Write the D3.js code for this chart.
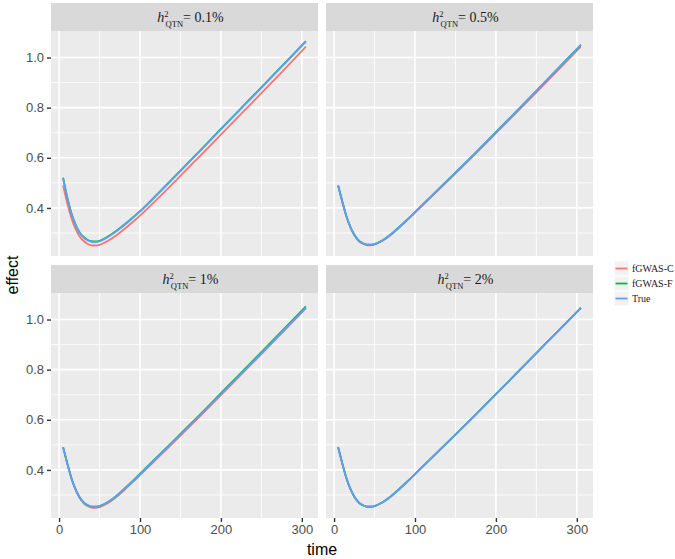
<!DOCTYPE html>
<html>
<head>
<meta charset="utf-8">
<script src="https://cdn.jsdelivr.net/npm/d3@7"></script>
<style>
  body { margin: 0; background: #fff; }
  svg { display: block; }
</style>
</head>
<body>
<svg id="chart" width="675" height="559"></svg>
<script>
// values
const times = [5, 10, 15, 20, 25, 30, 35, 40, 45, 50, 60, 70, 80, 90, 100, 125, 150, 175, 200, 225, 250, 275, 305];

const panelLabels = ["0.1%", "0.5%", "1%", "2%"];
const seriesNames = ["fGWAS-C", "fGWAS-F", "True"];
const seriesColors = ["#F8766D", "#00BA38", "#619CFF"];

// h2 = 0.1%
const c01 = [0.489, 0.42, 0.362, 0.318, 0.288, 0.269, 0.257, 0.251, 0.25, 0.253, 0.268, 0.289, 0.314, 0.341, 0.369, 0.447, 0.528, 0.61, 0.692, 0.775, 0.858, 0.941, 1.043];
const f01 = [0.521, 0.444, 0.382, 0.337, 0.304, 0.285, 0.273, 0.267, 0.266, 0.269, 0.285, 0.307, 0.332, 0.359, 0.387, 0.467, 0.549, 0.632, 0.715, 0.798, 0.881, 0.965, 1.065];
const t01 = [0.517, 0.442, 0.38, 0.335, 0.302, 0.283, 0.271, 0.265, 0.264, 0.267, 0.283, 0.305, 0.33, 0.357, 0.385, 0.465, 0.547, 0.63, 0.713, 0.796, 0.879, 0.963, 1.063];
// h2 = 0.5%
const c05 = [0.488, 0.426, 0.368, 0.323, 0.291, 0.27, 0.258, 0.252, 0.251, 0.254, 0.269, 0.292, 0.32, 0.35, 0.381, 0.459, 0.538, 0.617, 0.698, 0.779, 0.861, 0.944, 1.043];
const f05 = [0.49, 0.428, 0.37, 0.325, 0.293, 0.272, 0.26, 0.254, 0.253, 0.256, 0.271, 0.294, 0.322, 0.352, 0.383, 0.462, 0.541, 0.621, 0.702, 0.784, 0.867, 0.951, 1.05];
const t05 = [0.49, 0.428, 0.37, 0.325, 0.293, 0.272, 0.26, 0.254, 0.253, 0.256, 0.271, 0.294, 0.322, 0.352, 0.383, 0.462, 0.541, 0.621, 0.702, 0.784, 0.867, 0.951, 1.05];
// h2 = 1%
const c1 = [0.49, 0.427, 0.369, 0.323, 0.29, 0.269, 0.256, 0.25, 0.249, 0.252, 0.267, 0.29, 0.318, 0.348, 0.379, 0.458, 0.537, 0.617, 0.698, 0.78, 0.862, 0.945, 1.045];
const f1 = [0.49, 0.428, 0.37, 0.325, 0.293, 0.272, 0.26, 0.254, 0.253, 0.256, 0.271, 0.294, 0.323, 0.353, 0.385, 0.464, 0.544, 0.624, 0.706, 0.788, 0.87, 0.953, 1.052];
const t1 = [0.49, 0.428, 0.37, 0.325, 0.293, 0.272, 0.26, 0.254, 0.253, 0.256, 0.271, 0.294, 0.322, 0.352, 0.383, 0.462, 0.541, 0.621, 0.702, 0.784, 0.866, 0.949, 1.047];
// h2 = 2%
const c2 = [0.492, 0.428, 0.37, 0.325, 0.293, 0.272, 0.26, 0.254, 0.253, 0.256, 0.271, 0.294, 0.322, 0.352, 0.383, 0.462, 0.541, 0.621, 0.702, 0.784, 0.866, 0.948, 1.046];
const f2 = [0.49, 0.428, 0.37, 0.325, 0.293, 0.272, 0.26, 0.254, 0.253, 0.256, 0.271, 0.294, 0.322, 0.352, 0.383, 0.462, 0.541, 0.621, 0.702, 0.784, 0.866, 0.948, 1.046];
const t2 = [0.49, 0.428, 0.37, 0.325, 0.293, 0.272, 0.26, 0.254, 0.253, 0.256, 0.271, 0.294, 0.322, 0.352, 0.383, 0.462, 0.541, 0.621, 0.702, 0.784, 0.866, 0.948, 1.046];

const panelSeries = [
  [c01, f01, t01],
  [c05, f05, t05],
  [c1, f1, t1],
  [c2, f2, t2],
];

const xTicks = [0, 100, 200, 300];
const xMinor = [50, 150, 250];
const yTicks = [0.4, 0.6, 0.8, 1.0];
const yMinor = [0.3, 0.5, 0.7, 0.9];

const svg = d3.select("#chart");
const sans = "'Liberation Sans', Arial, Helvetica, sans-serif";
const serif = "'Liberation Serif', 'Times New Roman', serif";

const colX = [51, 326],
  rowY = [3, 265],
  panelW = 267,
  stripH = 28,
  plotH = 225;

// ggplot style 5% expansion
function expand(ext) {
  const pad = (ext[1] - ext[0]) * 0.05;
  return [ext[0] - pad, ext[1] + pad];
}

const allVals = panelSeries.flat(2);
const x = d3.scaleLinear().domain(expand(d3.extent(times))).range([0, panelW]);
const y = d3.scaleLinear().domain(expand(d3.extent(allVals))).range([plotH, 0]);

const line = d3
  .line()
  .x(function (d) {
    return x(d[0]);
  })
  .y(function (d) {
    return y(d[1]);
  })
  .curve(d3.curveMonotoneX);

panelSeries.forEach(function (series, i) {
  const col = i % 2,
    row = Math.floor(i / 2);
  const g = svg
    .append("g")
    .attr("transform", "translate(" + colX[col] + "," + rowY[row] + ")");

  // strip
  g.append("rect")
    .attr("width", panelW)
    .attr("height", stripH)
    .attr("fill", "#D9D9D9");

  const label = g
    .append("text")
    .attr("x", panelW / 2 + 6)
    .attr("y", 18.5)
    .attr("text-anchor", "middle")
    .style("font-family", serif)
    .style("font-size", "14px")
    .attr("fill", "#1A1A1A");
  label.append("tspan").style("font-style", "italic").text("h");
  label.append("tspan").attr("dy", -5).style("font-size", "8.5px").text("2");
  label.append("tspan").attr("dy", 10).attr("dx", -3).style("font-size", "8.5px").text("QTN");
  label.append("tspan").attr("dy", -5).text("= " + panelLabels[i]);

  const p = g.append("g").attr("transform", "translate(0," + stripH + ")");

  p.append("rect")
    .attr("width", panelW)
    .attr("height", plotH)
    .attr("fill", "#EBEBEB");

  // grid
  p.selectAll(".xminor")
    .data(xMinor)
    .enter()
    .append("line")
    .attr("x1", (d) => x(d))
    .attr("x2", (d) => x(d))
    .attr("y1", 0)
    .attr("y2", plotH)
    .attr("stroke", "#fff")
    .attr("stroke-width", 0.8);
  p.selectAll(".yminor")
    .data(yMinor)
    .enter()
    .append("line")
    .attr("y1", (d) => y(d))
    .attr("y2", (d) => y(d))
    .attr("x1", 0)
    .attr("x2", panelW)
    .attr("stroke", "#fff")
    .attr("stroke-width", 0.8);
  p.selectAll(".xmajor")
    .data(xTicks)
    .enter()
    .append("line")
    .attr("x1", (d) => x(d))
    .attr("x2", (d) => x(d))
    .attr("y1", 0)
    .attr("y2", plotH)
    .attr("stroke", "#fff")
    .attr("stroke-width", 1.6);
  p.selectAll(".ymajor")
    .data(yTicks)
    .enter()
    .append("line")
    .attr("y1", (d) => y(d))
    .attr("y2", (d) => y(d))
    .attr("x1", 0)
    .attr("x2", panelW)
    .attr("stroke", "#fff")
    .attr("stroke-width", 1.6);

  // curves, True on top
  series.forEach(function (vals, k) {
    p.append("path")
      .datum(times.map((t, j) => [t, vals[j]]))
      .attr("fill", "none")
      .attr("stroke", seriesColors[k])
      .attr("stroke-width", 1.8)
      .attr("d", line);
  });

  // axes
  if (col === 0) {
    const ya = p
      .append("g")
      .call(d3.axisLeft(y).tickValues(yTicks).tickSize(4).tickPadding(3).tickFormat(d3.format(".1f")));
    ya.select(".domain").remove();
    ya.selectAll("line").attr("stroke", "#333").attr("stroke-width", 1.4);
    ya.selectAll("text")
      .attr("fill", "#4D4D4D")
      .style("font-family", sans)
      .style("font-size", "13px");
  }
  if (row === 1) {
    const xa = p
      .append("g")
      .attr("transform", "translate(0," + plotH + ")")
      .call(d3.axisBottom(x).tickValues(xTicks).tickSize(4).tickPadding(3));
    xa.select(".domain").remove();
    xa.selectAll("line").attr("stroke", "#333").attr("stroke-width", 1.4);
    xa.selectAll("text")
      .attr("fill", "#4D4D4D")
      .style("font-family", sans)
      .style("font-size", "13px");
  }
});

// axis titles
svg
  .append("text")
  .attr("x", (colX[0] + colX[1] + panelW) / 2)
  .attr("y", 555)
  .attr("text-anchor", "middle")
  .style("font-family", sans)
  .style("font-size", "16px")
  .text("time");

svg
  .append("text")
  .attr("transform", "translate(18,275) rotate(-90)")
  .attr("text-anchor", "middle")
  .style("font-family", sans)
  .style("font-size", "16px")
  .text("effect");

// legend
const keySize = 15;
const legend = svg.append("g").attr("transform", "translate(614,261)");
const entry = legend
  .selectAll("g")
  .data(seriesNames)
  .enter()
  .append("g")
  .attr("transform", (d, i) => "translate(0," + i * keySize + ")");
entry
  .append("rect")
  .attr("width", keySize)
  .attr("height", keySize)
  .attr("fill", "#F2F2F2")
  .attr("stroke", "#fff")
  .attr("stroke-width", 1);
entry
  .append("line")
  .attr("x1", 1.5)
  .attr("x2", keySize - 1.5)
  .attr("y1", keySize / 2)
  .attr("y2", keySize / 2)
  .attr("stroke", (d, i) => seriesColors[i])
  .attr("stroke-width", 1.8);
entry
  .append("text")
  .attr("x", keySize + 3)
  .attr("y", keySize / 2 + 3.5)
  .style("font-family", serif)
  .style("font-size", "10px")
  .attr("fill", "#1A1A1A")
  .text((d) => d);
</script>
</body>
</html>
